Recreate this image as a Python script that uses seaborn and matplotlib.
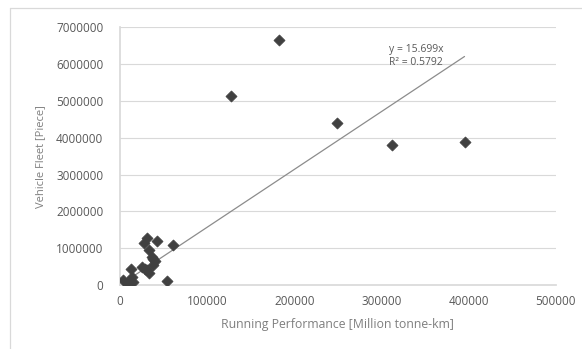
import numpy as np
import pandas as pd
import matplotlib.pyplot as plt
import seaborn as sns
from matplotlib.ticker import FuncFormatter
from matplotlib.lines import Line2D

# running performance [million tonne-km] vs vehicle fleet [piece]
running_perf = [182000, 127700, 249200, 311900, 395300, 61200, 53500, 42800,
                30600, 27500, 33600, 36300, 40100, 37500, 24800, 28700, 33600,
                12200, 3000, 7600, 15300, 13400, 31000, 38500]
vehicle_fleet = [6640000, 5140000, 4400000, 3800000, 3890000, 1100000, 120000,
                 1200000, 1270000, 1130000, 950000, 770000, 660000, 560000,
                 500000, 430000, 320000, 450000, 150000, 50000, 90000, 210000,
                 400000, 700000]
slope = 15.699
r_squared = 0.5792

x_ticks = [0, 100000, 200000, 300000, 400000, 500000]
y_ticks = [0, 1000000, 2000000, 3000000, 4000000, 5000000, 6000000, 7000000]

sns.set_theme(style="white")
plt.rcParams['font.family'] = ['Open Sans', 'DejaVu Sans']

df = pd.DataFrame({'x': running_perf, 'y': vehicle_fleet})

fig, ax = plt.subplots(figsize=(5.82, 3.49), dpi=100)
fig.subplots_adjust(left=0.206, right=0.955, top=0.922, bottom=0.183)

for y in y_ticks[1:]:
    ax.axhline(y, color='#d9d9d9', lw=0.8, zorder=0)

sns.scatterplot(data=df, x='x', y='y', ax=ax, marker='D', s=32,
                color='#404040', edgecolor='#404040', linewidth=0.5, zorder=3)

# trendline through origin
xl = np.array([min(running_perf), max(running_perf)])
ax.plot(xl, slope * xl, color='#8c8c8c', lw=0.9, zorder=2)
ax.text(309000, 6220000, f'y = {slope}x\nR² = {r_squared}', fontsize=7.5,
        color='#595959', va='center', ha='left', linespacing=1.2)

ax.set_xlim(0, 500000)
ax.set_ylim(0, 7000000)
ax.set_xticks(x_ticks)
ax.set_yticks(y_ticks)
fmt = FuncFormatter(lambda v, p: f'{int(v)}')
ax.xaxis.set_major_formatter(fmt)
ax.yaxis.set_major_formatter(fmt)
ax.tick_params(axis='x', labelsize=8.5, colors='#595959', length=0, pad=7)
ax.tick_params(axis='y', labelsize=8.5, colors='#595959', length=0, pad=12)
ax.set_xlabel('Running Performance [Million tonne-km]', fontsize=8.8, color='#7f7f7f', labelpad=7)
ax.set_ylabel('Vehicle Fleet [Piece]', fontsize=8, color='#7f7f7f', labelpad=7)

for side in ['top', 'right']:
    ax.spines[side].set_visible(False)
ax.spines['left'].set_color('#d9d9d9')
ax.spines['bottom'].set_color('#d9d9d9')

# chart area border (left and top edges visible)
fig.lines.append(Line2D([0.018, 0.018], [0.0, 0.977], transform=fig.transFigure,
                        color='#d9d9d9', lw=0.9))
fig.lines.append(Line2D([0.018, 1.0], [0.977, 0.977], transform=fig.transFigure,
                        color='#d9d9d9', lw=0.9))

plt.savefig('out.png', dpi=100)
plt.close()
